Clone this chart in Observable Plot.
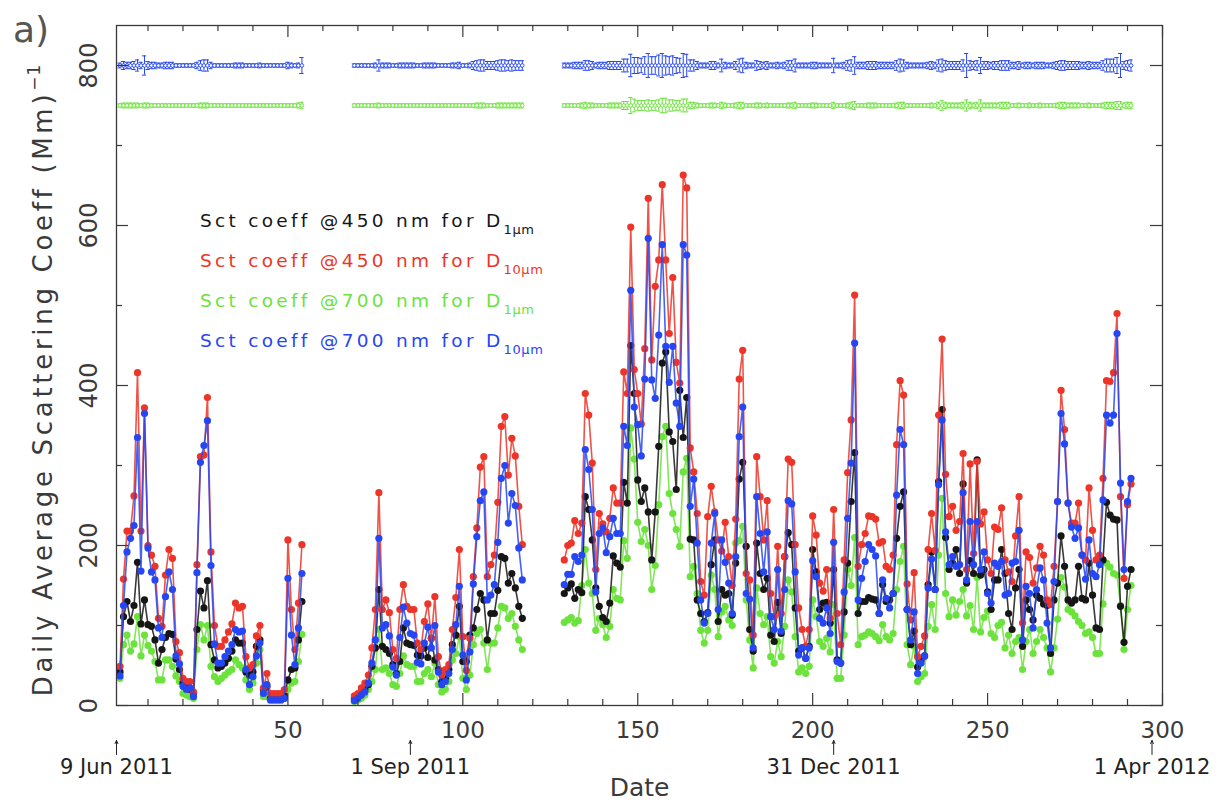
<!DOCTYPE html>
<html><head><meta charset="utf-8">
<script src="https://cdn.jsdelivr.net/npm/d3@7"></script>
<script src="https://cdn.jsdelivr.net/npm/@observablehq/plot@0.6"></script>
<style>body{margin:0;background:#fff}svg{display:block}</style>
</head><body><div id="chart"></div>
<script>
// ---- data (daily averages, day 1 = 9 Jun 2011) ----
const segStart = [2, 69, 129];

const black1 = [42,111,130,105,125,179,102,132,101,99,82,53,70,85,90,89,58,45,28,24,20,15,95,143,122,156,76,57,47,49,53,59,68,82,78,78,42,38,42,74,82,20,24,9,9,9,9,12,32,45,47,82,130];
const red1   = [49,158,218,218,262,416,218,372,200,188,174,109,99,163,195,184,80,66,34,30,30,17,176,311,313,385,192,100,74,74,82,92,102,128,122,124,61,47,51,87,100,22,40,15,15,15,15,20,207,120,70,128,201];
const green1 = [34,76,88,68,77,111,62,88,75,68,55,32,32,57,57,49,37,30,15,13,11,9,70,101,82,100,49,36,30,34,38,42,45,57,51,47,32,20,28,53,70,11,11,7,7,7,7,9,20,28,30,55,89];
const blue1  = [37,125,192,209,225,335,168,365,197,167,157,97,85,136,167,145,62,52,24,20,22,11,166,304,325,356,175,77,53,53,61,68,76,95,92,93,45,26,36,62,78,15,26,7,7,7,7,9,159,88,51,97,165];

const black2 = [9,13,15,20,26,49,72,145,74,70,65,51,40,55,97,78,76,75,63,62,72,60,84,57,45,30,34,45,76,88,124,55,55,88,97,120,140,132,82,115,115,144,186,184,153,165,147,124,109];
const red2   = [12,15,22,28,38,72,120,266,120,132,116,70,59,120,151,124,120,120,78,70,105,127,84,136,61,38,45,51,95,135,195,86,44,84,161,222,298,311,161,176,188,254,349,361,288,334,312,249,201];
const green2 = [5,7,9,13,20,30,45,95,45,47,40,26,24,40,62,51,49,49,30,30,40,45,36,53,26,17,20,30,57,65,86,34,20,38,76,90,95,78,45,78,78,97,124,122,109,115,99,82,70];
const blue2  = [6,9,13,17,28,53,82,209,97,101,87,48,38,85,123,103,90,88,54,52,78,98,72,100,42,26,30,40,70,101,149,63,32,67,152,211,256,267,132,138,151,204,284,300,228,265,250,197,157];

const black3 = [140,147,152,134,145,141,261,245,207,147,124,110,105,128,187,178,173,279,253,450,
390,282,255,272,242,182,242,324,428,442,342,330,270,394,335,385,208,207,132,115,
105,116,176,207,105,145,138,140,113,178,283,304,199,95,68,203,165,145,159,88,
80,129,90,186,216,201,122,68,72,59,74,195,167,120,128,129,103,170,57,53,
117,178,255,316,115,130,130,135,133,132,115,151,130,132,140,209,249,267,120,76,
93,48,57,62,151,192,145,280,370,210,170,178,195,165,277,153,181,165,307,163,
170,142,120,157,157,195,165,115,95,147,170,74,132,120,107,138,134,127,125,65,
132,153,212,174,132,128,132,174,134,132,178,138,97,95,182,254,238,233,232,124,
79,149,170];
const red3 = [182,200,203,231,215,228,390,363,303,170,240,227,217,234,272,253,253,417,390,598,
420,390,352,446,634,432,524,557,651,557,465,535,429,403,663,647,322,292,240,155,
138,236,274,242,207,193,229,186,150,233,408,444,165,157,88,311,261,207,256,140,
111,199,115,186,308,304,201,122,95,74,95,237,213,153,143,170,109,245,115,76,
182,291,357,513,174,201,215,237,236,233,203,205,174,170,188,326,406,388,152,107,
166,61,74,87,195,240,194,363,458,289,236,249,219,230,315,170,302,190,305,227,
242,182,165,223,220,247,182,167,155,212,261,103,192,185,153,172,199,188,132,126,
174,255,394,345,253,228,228,253,188,182,272,219,182,188,284,406,405,416,490,261,
159,251,277];
const green3 = [104,107,110,103,106,150,195,153,140,94,109,101,85,99,145,134,132,206,184,347,
308,229,205,220,200,145,175,251,336,349,265,240,220,199,292,309,161,174,140,94,
78,94,163,145,86,117,124,107,100,203,206,224,132,82,47,147,115,101,111,61,
53,80,61,99,157,142,86,42,47,40,49,132,111,80,74,84,67,126,34,34,
88,170,150,210,76,86,88,92,90,86,81,101,86,82,90,145,180,199,76,51,
74,30,36,40,99,126,95,188,259,140,111,132,113,130,145,112,125,95,160,92,
110,118,90,85,100,104,72,88,65,80,85,45,80,95,65,80,95,85,72,42,
72,108,160,148,120,117,112,105,100,90,92,85,65,65,127,178,173,165,163,125,
70,120,150];
const blue3 = [151,164,164,186,180,188,320,295,245,142,215,222,191,211,234,215,215,349,325,519,
373,351,312,408,584,407,384,463,576,449,404,449,378,349,576,563,249,283,203,132,
103,115,203,240,120,207,179,153,115,186,336,373,140,133,72,261,215,167,217,111,
95,170,93,145,256,252,167,63,72,59,72,181,161,109,103,122,90,204,55,53,
142,234,303,453,132,159,180,201,195,187,115,157,134,122,140,263,345,326,120,82,
117,40,53,62,147,183,145,276,357,217,176,186,174,176,266,157,230,176,230,170,
192,140,128,178,174,180,138,140,178,180,219,82,149,140,97,145,172,157,103,72,
155,255,365,327,253,223,209,222,188,158,207,165,161,176,257,363,353,363,465,278,
170,255,284];

// error bars drawn at the top (700 nm series)
const blueErr1 = [3,5,4,4,5,7,4,12,5,4,4,3,3,4,4,4,2,2,2,2,2,2,4,6,7,7,4,2,2,2,2,2,2,3,3,3,2,2,2,2,3,2,2,2,2,2,2,2,4,3,2,3,10];
const greenErr1 = [2,3,3,3,3,3,2,3,3,2,2,2,2,2,2,2,2,2,2,2,2,2,2,3,3,3,2,2,2,2,2,2,2,2,2,2,2,2,2,2,2,2,2,2,2,2,2,2,2,2,2,3,4];
const blueErr2 = [2,2,2,2,2,2,3,7,3,3,3,2,2,3,3,3,3,3,2,2,3,3,3,3,2,2,2,2,3,3,4,2,2,3,5,6,7,7,5,5,5,6,7,7,6,7,6,6,6];
const greenErr2 = [2,2,2,2,2,2,2,3,2,2,2,2,2,2,2,2,2,2,2,2,2,2,2,2,2,2,2,2,2,2,2,2,2,2,2,3,3,3,2,2,2,3,3,3,3,3,3,3,3];
const blueErr3 = [3,3,3,4,4,4,6,6,5,3,4,4,4,5,5,5,5,8,8,14,10,10,9,11,15,11,11,13,15,12,
11,12,10,9,15,14,7,7,5,3,3,3,5,5,3,8,4,3,3,5,8,9,4,3,3,6,5,4,5,3,
3,4,3,4,6,6,8,3,3,3,3,4,4,3,3,3,3,9,3,3,4,6,7,11,4,4,4,5,5,5,
4,4,4,4,4,6,8,7,4,3,3,3,3,3,4,5,4,7,8,6,5,5,5,5,7,15,6,5,6,10,
5,5,4,5,5,6,6,6,4,4,5,3,4,4,3,4,4,4,3,3,4,5,6,6,5,5,5,5,4,4,
5,4,4,4,6,8,8,8,10,15,5,6,7];
const greenErr3 = [2,2,2,2,2,3,4,3,3,2,2,2,2,3,3,3,3,5,5,10,8,6,6,6,7,6,6,7,9,9,
7,7,6,6,8,8,4,4,3,2,2,2,3,3,2,4,3,2,2,3,4,4,2,2,2,3,3,2,3,2,
2,2,2,2,3,3,4,2,2,2,2,3,3,2,2,2,2,4,2,2,2,3,4,5,2,2,2,3,3,3,
2,2,2,2,2,3,4,4,2,2,2,2,2,2,2,3,2,4,6,4,3,3,3,3,4,7,4,3,4,7,
3,3,3,3,3,4,4,4,2,2,3,2,2,3,2,2,3,2,2,2,2,3,4,4,3,3,3,3,2,2,
3,2,2,2,3,4,4,4,5,5,3,4,4];

const xMajor = [50, 100, 150, 200, 250, 300];
const xMinor = [10,20,30,40,60,70,80,90,110,120,130,140,160,170,180,190,210,220,230,240,260,270,280,290];
const yMajor = [0, 200, 400, 600, 800];
const yMinor = [100, 300, 500, 700];
const dateMarks = [
  {day: 1, label: "9 Jun 2011"},
  {day: 85, label: "1 Sep 2011"},
  {day: 206, label: "31 Dec 2011"},
  {day: 297, label: "1 Apr 2012"}
];
const legendItems = [
  {main: "Sct coeff @450 nm for D", sub: "1\u03bcm", key: "black"},
  {main: "Sct coeff @450 nm for D", sub: "10\u03bcm", key: "red"},
  {main: "Sct coeff @700 nm for D", sub: "1\u03bcm", key: "green"},
  {main: "Sct coeff @700 nm for D", sub: "10\u03bcm", key: "blue"}
];

// ---- styling ----
const colors = {black: "#161616", red: "#ec3528", green: "#6ce23c", blue: "#2646f2"};
const W = 1225, H = 812, mL = 116, mR = 63, mT = 25, mB = 107;
const xDom = [1, 300], yDom = [0, 850];
const pxX = (W - mL - mR) / (xDom[1] - xDom[0]);
const pxY = (H - mT - mB) / (yDom[1] - yDom[0]);
const axisColor = "#3a3a3a";
const font = "DejaVu Sans, Liberation Sans, sans-serif";

const seriesDefs = [
  {key: "green", segs: [green1, green2, green3]},
  {key: "black", segs: [black1, black2, black3]},
  {key: "red", segs: [red1, red2, red3]},
  {key: "blue", segs: [blue1, blue2, blue3]}
];
const errDefs = [
  {key: "blue", base: 800, segs: [blueErr1, blueErr2, blueErr3]},
  {key: "green", base: 750, segs: [greenErr1, greenErr2, greenErr3]}
];

const seriesMarks = [];
for (const s of seriesDefs) {
  const rows = [];
  s.segs.forEach((arr, si) => arr.forEach((v, i) => rows.push({seg: si, day: segStart[si] + i, value: v})));
  seriesMarks.push(Plot.line(rows, {x: "day", y: "value", z: "seg", stroke: colors[s.key], strokeWidth: 1.6, strokeOpacity: 0.85}));
  seriesMarks.push(Plot.dot(rows, {x: "day", y: "value", r: 3.6, fill: colors[s.key], stroke: "none"}));
}
const errMarks = [];
for (const e of errDefs) {
  const rows = [];
  e.segs.forEach((arr, si) => arr.forEach((v, i) => rows.push({seg: si, day: segStart[si] + i, base: e.base, err: v})));
  const c = colors[e.key];
  errMarks.push(Plot.line(rows, {x: "day", y: "base", z: "seg", stroke: c, strokeWidth: 1.4}));
  errMarks.push(Plot.ruleX(rows, {x: "day", y1: d => d.base - d.err, y2: d => d.base + d.err, stroke: c, strokeWidth: 1}));
  errMarks.push(Plot.ruleY(rows, {y: d => d.base + d.err, x1: d => d.day - 0.6, x2: d => d.day + 0.6, stroke: c, strokeWidth: 1}));
  errMarks.push(Plot.ruleY(rows, {y: d => d.base - d.err, x1: d => d.day - 0.6, x2: d => d.day + 0.6, stroke: c, strokeWidth: 1}));
  errMarks.push(Plot.dot(rows, {x: "day", y: "base", r: 1.8, stroke: c, fill: "white", strokeWidth: 0.9}));
}

const majLen = 12, minLen = 6;
const tickMarks = [
  Plot.ruleX(xMajor, {x: d => d, y1: yDom[0], y2: yDom[0] + majLen / pxY, stroke: axisColor, strokeWidth: 1.2}),
  Plot.ruleX(xMinor, {x: d => d, y1: yDom[0], y2: yDom[0] + minLen / pxY, stroke: axisColor, strokeWidth: 1.2}),
  Plot.ruleX(xMajor, {x: d => d, y1: yDom[1], y2: yDom[1] - majLen / pxY, stroke: axisColor, strokeWidth: 1.2}),
  Plot.ruleX(xMinor, {x: d => d, y1: yDom[1], y2: yDom[1] - minLen / pxY, stroke: axisColor, strokeWidth: 1.2}),
  Plot.ruleY(yMajor, {y: d => d, x1: xDom[0], x2: xDom[0] + majLen / pxX, stroke: axisColor, strokeWidth: 1.2}),
  Plot.ruleY(yMinor, {y: d => d, x1: xDom[0], x2: xDom[0] + minLen / pxX, stroke: axisColor, strokeWidth: 1.2}),
  Plot.ruleY(yMajor, {y: d => d, x1: xDom[1], x2: xDom[1] - majLen / pxX, stroke: axisColor, strokeWidth: 1.2}),
  Plot.ruleY(yMinor, {y: d => d, x1: xDom[1], x2: xDom[1] - minLen / pxX, stroke: axisColor, strokeWidth: 1.2})
];

// date pointer arrows below the axis (pixel offsets converted to y units)
const arrowTop = -35 / pxY, arrowBottom = -49 / pxY;

const plot = Plot.plot({
  width: W, height: H,
  marginLeft: mL, marginRight: mR, marginTop: mT, marginBottom: mB,
  x: {domain: xDom, axis: null},
  y: {domain: yDom, axis: null},
  style: {fontFamily: font, background: "white", overflow: "visible"},
  marks: [
    ...seriesMarks,
    ...errMarks,
    Plot.frame({stroke: axisColor, strokeWidth: 1.3}),
    ...tickMarks,
    Plot.text(xMajor, {x: d => d, y: yDom[0], dy: 25, text: d => String(d), fontSize: 23, fill: axisColor}),
    Plot.text(yMajor, {x: xDom[0], y: d => d, dx: -27, rotate: -90, text: d => String(d), fontSize: 24, fill: axisColor}),
    Plot.arrow(dateMarks, {x1: "day", x2: "day", y1: arrowBottom, y2: arrowTop, stroke: "#222", strokeWidth: 1, headLength: 5, headAngle: 50}),
    Plot.text(dateMarks, {x: "day", y: yDom[0], dy: 62, text: "label", fontSize: 21, fill: "#222", ariaLabel: "dates"}),
    Plot.text(["Date"], {frameAnchor: "bottom", dy: 90, fontSize: 25, fill: axisColor})
  ]
});
document.getElementById("chart").append(plot);

const svg = d3.select(plot);
svg.selectAll('g[aria-label="dates"] text').attr("letter-spacing", 1.6);

// y-axis title with superscript
const yt = svg.append("text")
  .attr("transform", "translate(52,380) rotate(-90)")
  .attr("text-anchor", "middle")
  .attr("font-family", font).attr("font-size", 26).attr("fill", axisColor)
  .attr("letter-spacing", 3.7);
yt.append("tspan").text("Daily Average Scattering Coeff (Mm)");
yt.append("tspan").attr("dy", -12).attr("font-size", 17).attr("letter-spacing", 1).text("\u22121");

// panel label
svg.append("text").attr("x", 31).attr("y", 42).attr("text-anchor", "middle")
  .attr("font-family", font).attr("font-size", 36).attr("fill", "#555").text("a)");

// legend
legendItems.forEach((it, i) => {
  const t = svg.append("text").attr("x", 200).attr("y", 227 + 40 * i)
    .attr("text-anchor", "start")
    .attr("font-family", font).attr("font-size", 18.5).attr("letter-spacing", 3.3)
    .attr("fill", colors[it.key]);
  t.append("tspan").text(it.main);
  t.append("tspan").attr("dy", 7).attr("font-size", 13).attr("letter-spacing", 0.6).text(it.sub);
});
</script>
</body></html>
